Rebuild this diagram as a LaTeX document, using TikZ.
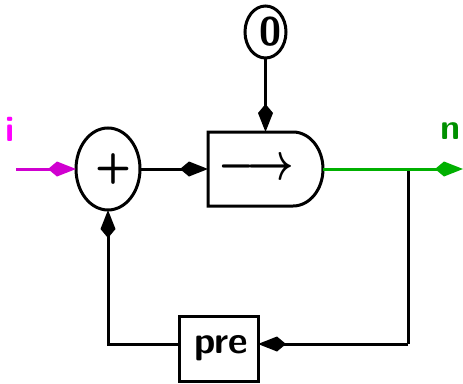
\documentclass[tikz,border=0pt]{standalone}
\usepackage{tikz}
\usetikzlibrary{arrows.meta,positioning,shapes}
\definecolor{wirei}{RGB}{208,0,208}
\definecolor{labeli}{RGB}{255,0,255}
\definecolor{wiren}{RGB}{0,176,0}
\definecolor{labeln}{RGB}{0,144,0}
\tikzstyle{oper} = [ellipse, draw, inner sep=0pt, outer sep=0pt]
\tikzstyle{block} = [rectangle, draw, inner sep=0pt, outer sep=0pt, font=\fontsize{38}{38}\selectfont\sffamily\bfseries]
\tikzstyle{tag} = [inner sep=0pt, font=\fontsize{36}{36}\selectfont\sffamily\bfseries]
\tikzstyle{flow} = [-{Kite[length=28pt,width=15pt,inset=9pt]}]

\begin{document}
\begin{tikzpicture}[x=1pt,y=1pt,line width=3pt,auto,node distance=157pt]
  \useasboundingbox (0,0) rectangle (463,-383);

  \node[oper,minimum width=64pt,minimum height=82pt,font=\fontsize{42}{42}\selectfont\sffamily\bfseries] (plus) at (108,-169) {\makebox[0pt]{\hspace*{10pt}+}};
  \node[minimum width=115pt,minimum height=74pt,inner sep=0pt,outer sep=0pt,font=\boldmath] (dly) [right of=plus,xshift=0.5pt] {\hspace*{-18pt}\scalebox{4.05}[5.2]{$\longrightarrow$}};
  \node[oper,minimum width=41pt,minimum height=52pt,font=\fontsize{40}{40}\selectfont\sffamily\bfseries] (zero) at (265.5,-32) {\makebox[0pt]{\hspace*{10pt}0}};
  \node[block,minimum width=79pt,minimum height=65pt] (pre) at (218.5,-348.5) {\hspace*{6pt}\raisebox{-4pt}{pre}};
  \node[tag,text=labeli] (li) at (10,-129) {i};
  \node[tag,text=labeln] (ln) at (451,-131) {n};

  \coordinate (in)   at (16,-169);
  \coordinate (out)  at (463,-169);
  \coordinate (fork) at (408,-169);
  \coordinate (prein) at (258,-344);
  \coordinate (preout) at (179,-344);

  % follow-by body
  \draw (dly.north west) -- ++(85,0) arc[start angle=90,end angle=-90,x radius=30,y radius=37]
        -- (dly.south west) -- cycle;

  \draw[flow,wirei] (in) -- (plus.west);
  \path (plus) edge[flow] (dly)
        (zero) edge[flow] (dly);
  \draw (fork) -- (fork |- prein);
  \draw[flow] (fork |- prein) -- (prein);
  \draw[flow] (preout) -| (plus.south);
  \draw[flow,wiren] (dly.east) -- (out);
\end{tikzpicture}
\end{document}
